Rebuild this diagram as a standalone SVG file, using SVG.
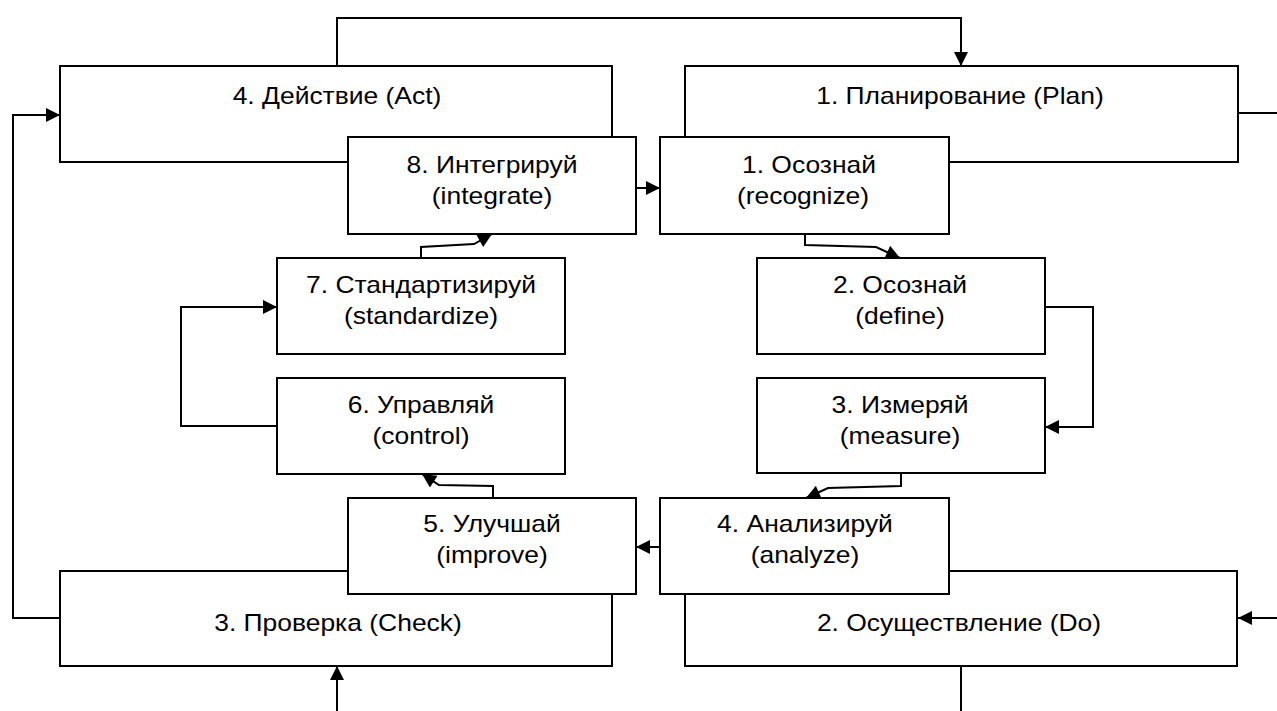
<svg xmlns="http://www.w3.org/2000/svg" width="1277" height="711" viewBox="0 0 1277 711">
<style>
.box{fill:#fff;stroke:#000;stroke-width:2}
.c{fill:none;stroke:#000;stroke-width:2}
.a{marker-end:url(#arr)}
.t{font-family:"Liberation Sans",Arial,sans-serif;font-size:23px;text-anchor:middle;fill:#000}
</style>
<defs>
<marker id="arr" viewBox="0 0 10 10" refX="10" refY="5" markerUnits="userSpaceOnUse" markerWidth="15" markerHeight="14" orient="auto">
<path d="M0,0 L10,5 L0,10 z" fill="#000"/>
</marker>
</defs>
<rect width="1277" height="711" fill="#fff"/>
<g id="connectors">
<path class="c a" d="M337,66 V18 H961 V66"/>
<path class="c" d="M1238,113 H1277"/>
<path class="c a" d="M1277,618 H1238"/>
<path class="c" d="M961,666 V711"/>
<path class="c a" d="M337,711 V666"/>
<path class="c a" d="M60,618 H13 V115 H60"/>
<path class="c a" d="M636,188 H660"/>
<path class="c a" d="M805,234 V245 L876,247 L900,258"/>
<path class="c a" d="M1045,307 H1093 V427 H1045"/>
<path class="c a" d="M901,473 V486 L828,488 L806,498"/>
<path class="c a" d="M660,547 H636"/>
<path class="c a" d="M493,498 V486 L439,485 L422,474"/>
<path class="c a" d="M277,426 H181 V307 H277"/>
<path class="c a" d="M421,258 V247 L474,244 L492,234"/>
</g>
<g id="act"><rect class="box" x="60" y="66" width="552" height="96"/>
<text class="t" transform="translate(337,104) scale(1.15,1)">4. Действие (Act)</text></g>
<g id="plan"><rect class="box" x="685" y="66" width="553" height="96"/>
<text class="t" transform="translate(960,104) scale(1.15,1)">1. Планирование (Plan)</text></g>
<g id="check"><rect class="box" x="60" y="571" width="552" height="95"/>
<text class="t" transform="translate(338,631) scale(1.15,1)">3. Проверка (Check)</text></g>
<g id="do"><rect class="box" x="685" y="571" width="552" height="95"/>
<text class="t" transform="translate(959,631) scale(1.15,1)">2. Осуществление (Do)</text></g>
<g id="integrate"><rect class="box" x="348" y="137" width="288" height="97"/>
<text class="t" transform="translate(492,173) scale(1.15,1)">8. Интегрируй</text>
<text class="t" transform="translate(492,204) scale(1.15,1)">(integrate)</text></g>
<g id="recognize"><rect class="box" x="660" y="137" width="289" height="97"/>
<text class="t" transform="translate(809,173) scale(1.15,1)">1. Осознай</text>
<text class="t" transform="translate(803,204) scale(1.15,1)">(recognize)</text></g>
<g id="standardize"><rect class="box" x="277" y="258" width="288" height="96"/>
<text class="t" transform="translate(421,293) scale(1.15,1)">7. Стандартизируй</text>
<text class="t" transform="translate(421,324) scale(1.15,1)">(standardize)</text></g>
<g id="define"><rect class="box" x="757" y="258" width="288" height="96"/>
<text class="t" transform="translate(900,293) scale(1.15,1)">2. Осознай</text>
<text class="t" transform="translate(900,324) scale(1.15,1)">(define)</text></g>
<g id="control"><rect class="box" x="277" y="378" width="288" height="96"/>
<text class="t" transform="translate(421,413) scale(1.15,1)">6. Управляй</text>
<text class="t" transform="translate(421,444) scale(1.15,1)">(control)</text></g>
<g id="measure"><rect class="box" x="757" y="378" width="288" height="95"/>
<text class="t" transform="translate(900,413) scale(1.15,1)">3. Измеряй</text>
<text class="t" transform="translate(900,444) scale(1.15,1)">(measure)</text></g>
<g id="improve"><rect class="box" x="348" y="498" width="288" height="96"/>
<text class="t" transform="translate(492,532) scale(1.15,1)">5. Улучшай</text>
<text class="t" transform="translate(492,563) scale(1.15,1)">(improve)</text></g>
<g id="analyze"><rect class="box" x="660" y="498" width="289" height="96"/>
<text class="t" transform="translate(805,532) scale(1.15,1)">4. Анализируй</text>
<text class="t" transform="translate(805,563) scale(1.15,1)">(analyze)</text></g>
</svg>
